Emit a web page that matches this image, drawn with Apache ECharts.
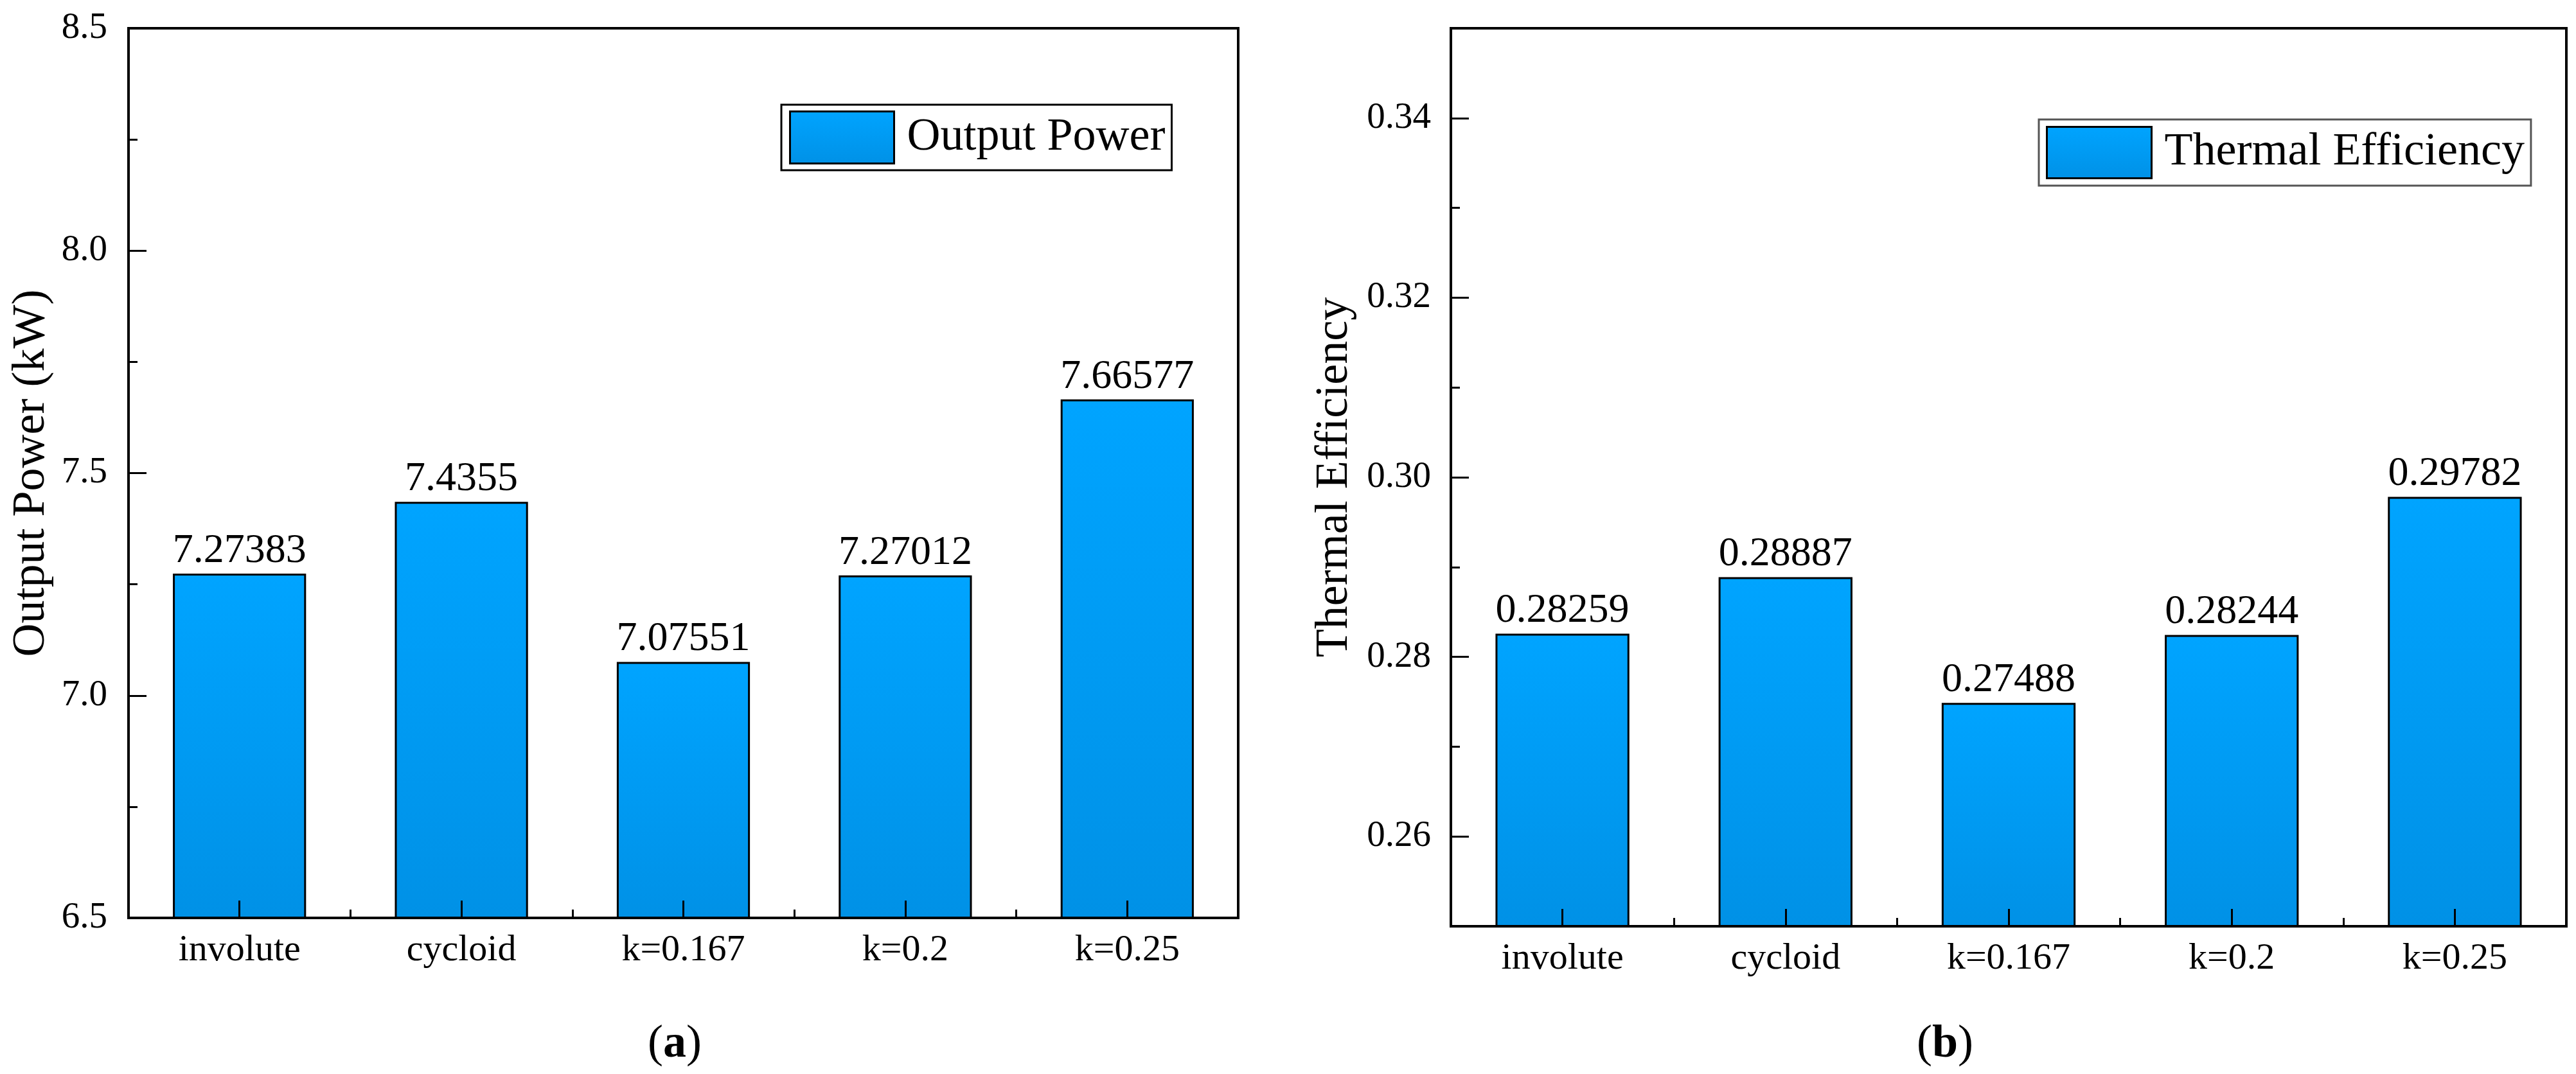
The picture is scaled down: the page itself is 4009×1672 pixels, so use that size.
<!DOCTYPE html>
<html>
<head>
<meta charset="utf-8">
<script src="https://cdn.jsdelivr.net/npm/echarts@6/dist/echarts.min.js"></script>
<style>
  html, body { margin: 0; padding: 0; background: #fff; }
  #chart { width: 4009px; height: 1672px; }
</style>
</head>
<body>
<div id="chart"></div>
<script>
var categories = ['involute', 'cycloid', 'k=0.167', 'k=0.2', 'k=0.25'];
var powerValues = [7.27383, 7.4355, 7.07551, 7.27012, 7.66577];
var efficiencyValues = [0.28259, 0.28887, 0.27488, 0.28244, 0.29782];
var effMajorTicks = [0.26, 0.28, 0.30, 0.32, 0.34];
var effMinorTicks = [0.27, 0.29, 0.31, 0.33];

var serif = 'Liberation Serif';

// bar fill, light on top
var barFill = {
  type: 'linear', x: 0, y: 0, x2: 0, y2: 1,
  colorStops: [
    { offset: 0, color: '#00a4ff' },
    { offset: 1, color: '#0091e6' }
  ]
};

function catAxis(gridIndex, minor) {
  return {
    type: 'category',
    gridIndex: gridIndex,
    data: categories,
    position: 'bottom',
    z: 10,
    axisLine: { show: !minor, lineStyle: { color: '#000', width: 4 } },
    axisTick: {
      show: true,
      inside: true,
      alignWithLabel: !minor,
      interval: 0,
      length: minor ? 13 : 27,
      lineStyle: { color: '#000', width: 3 }
    },
    axisLabel: {
      show: !minor,
      interval: 0,
      margin: 22,
      color: '#000',
      fontFamily: serif,
      fontSize: 58
    },
    splitLine: { show: false }
  };
}

var subRich = {
  p: { fontFamily: serif, fontSize: 72, fontWeight: 'normal', color: '#000' },
  b: { fontFamily: serif, fontSize: 72, fontWeight: 'bold', color: '#000' }
};

var option = {
  backgroundColor: '#fff',
  animation: false,
  title: [{
    text: '{p|(}{b|a}{p|)}',
    left: 1045, top: 1585, textAlign: 'center',
    textStyle: { fontWeight: 'normal', rich: subRich }
  }, {
    text: '{p|(}{b|b}{p|)}',
    left: 3022, top: 1585, textAlign: 'center',
    textStyle: { fontWeight: 'normal', rich: subRich }
  }],
  legend: [{
    data: ['Output Power'],
    left: 1216, top: 163,
    padding: [9, 10, 9, 12],
    icon: 'rect',
    itemWidth: 162, itemHeight: 81,
    borderColor: '#000', borderWidth: 3,
    itemStyle: { borderColor: '#000', borderWidth: 3 },
    textStyle: { fontFamily: serif, fontSize: 72, color: '#000', padding: [0, 0, 0, 15] }
  }, {
    data: ['Thermal Efficiency'],
    left: 3173, top: 186,
    padding: [10, 10, 10, 11],
    icon: 'rect',
    itemWidth: 163, itemHeight: 80,
    borderColor: '#555', borderWidth: 3,
    itemStyle: { borderColor: '#000', borderWidth: 3 },
    textStyle: { fontFamily: serif, fontSize: 72, color: '#000', padding: [0, 0, 0, 15] }
  }],
  grid: [
    { left: 200, top: 44, width: 1727, height: 1385, show: true, borderColor: '#000', borderWidth: 4 },
    { left: 2258, top: 44, width: 1736, height: 1398, show: true, borderColor: '#000', borderWidth: 4 }
  ],
  xAxis: [catAxis(0, false), catAxis(0, true), catAxis(1, false), catAxis(1, true)],
  yAxis: [{
    type: 'value',
    gridIndex: 0,
    min: 6.5, max: 8.5, interval: 0.5,
    z: 10,
    name: 'Output Power (kW)',
    nameLocation: 'middle',
    nameGap: 115,
    nameTextStyle: { fontFamily: serif, fontSize: 72, color: '#000' },
    axisLine: { show: true, lineStyle: { color: '#000', width: 4 } },
    axisTick: { show: true, inside: true, length: 28, lineStyle: { color: '#000', width: 3 } },
    minorTick: { show: true, splitNumber: 2, length: 14, lineStyle: { color: '#000', width: 3 } },
    axisLabel: {
      margin: 33, color: '#000', fontFamily: serif, fontSize: 57,
      formatter: function (v) { return v.toFixed(1); }
    },
    splitLine: { show: false }
  }, {
    type: 'value',
    gridIndex: 1,
    min: 0.25, max: 0.35,
    position: 'left',
    z: 10,
    name: 'Thermal Efficiency',
    nameLocation: 'middle',
    nameGap: 145,
    nameTextStyle: { fontFamily: serif, fontSize: 72, color: '#000' },
    axisLine: { show: true, lineStyle: { color: '#000', width: 4 } },
    axisTick: { show: true, inside: true, length: 28, customValues: effMajorTicks, lineStyle: { color: '#000', width: 3 } },
    axisLabel: {
      margin: 31, color: '#000', fontFamily: serif, fontSize: 57,
      customValues: effMajorTicks,
      formatter: function (v) { return v.toFixed(2); }
    },
    splitLine: { show: false }
  }, {
    type: 'value',
    gridIndex: 1,
    min: 0.25, max: 0.35,
    position: 'left',
    z: 10,
    axisLine: { show: false },
    axisTick: { show: true, inside: true, length: 14, customValues: effMinorTicks, lineStyle: { color: '#000', width: 3 } },
    axisLabel: { show: false },
    splitLine: { show: false }
  }],
  series: [{
    name: 'Output Power',
    type: 'bar',
    xAxisIndex: 0,
    yAxisIndex: 0,
    barWidth: '60%',
    data: powerValues,
    itemStyle: { color: barFill, borderColor: '#000', borderWidth: 3 },
    label: { show: true, position: 'top', distance: 3, color: '#000', fontFamily: serif, fontSize: 64 }
  }, {
    name: 'Thermal Efficiency',
    type: 'bar',
    xAxisIndex: 2,
    yAxisIndex: 1,
    barWidth: '60%',
    data: efficiencyValues,
    itemStyle: { color: barFill, borderColor: '#000', borderWidth: 3 },
    label: { show: true, position: 'top', distance: 3, color: '#000', fontFamily: serif, fontSize: 64 }
  }]
};

var chart = echarts.init(document.getElementById('chart'));
chart.setOption(option);
</script>
</body>
</html>
